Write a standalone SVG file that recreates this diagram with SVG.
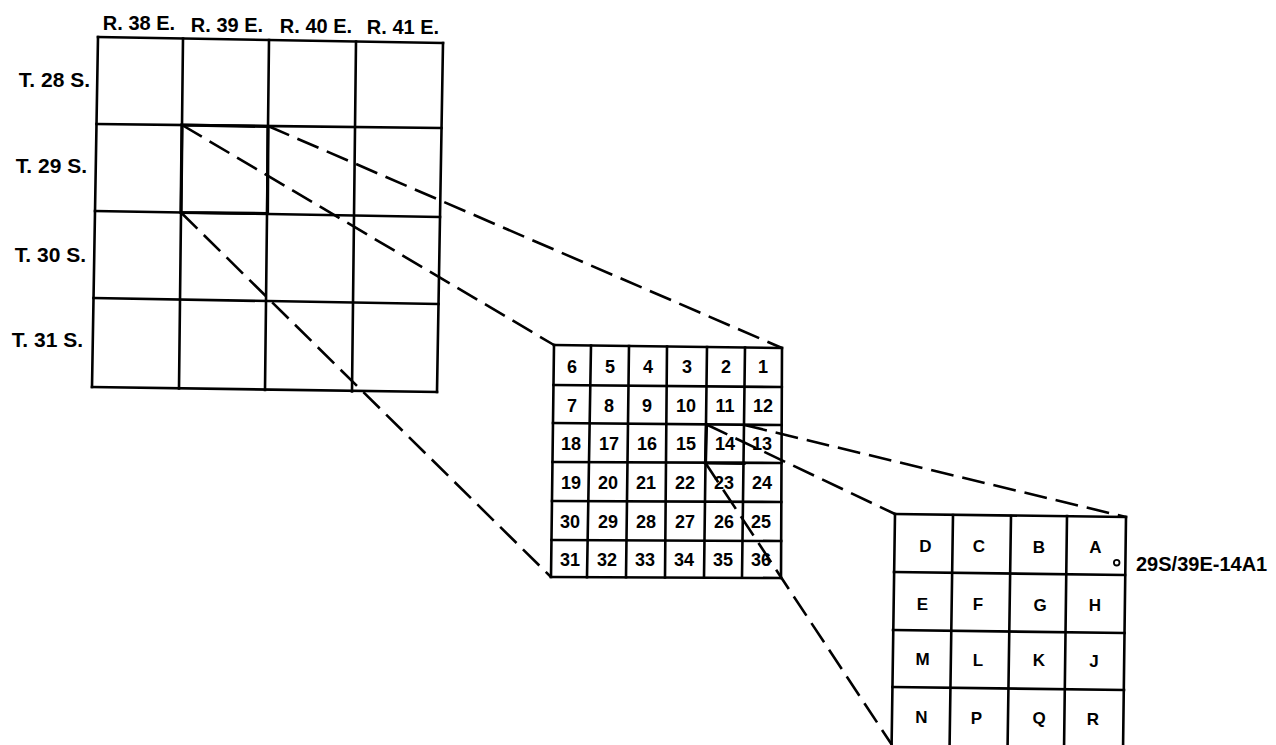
<svg xmlns="http://www.w3.org/2000/svg" width="1276" height="745" viewBox="0 0 1276 745">
<style>
.g{fill:none;stroke:#000;stroke-width:2.6;stroke-linecap:square}
.h{fill:none;stroke:#000;stroke-width:3.2;stroke-linecap:square}
.d{fill:none;stroke:#000;stroke-width:2.6;stroke-dasharray:23 9}
.t{font-family:"Liberation Sans",Arial,sans-serif;font-weight:bold;fill:#000}
.lb{font-size:20px}
.tl{font-size:21px}
.n{font-size:18px;text-anchor:middle}
.l{font-size:17px;text-anchor:middle}
</style>
<rect width="1276" height="745" fill="#fff"/>
<g id="connectors">
<path class="d" d="M182 125L554 345"/>
<path class="d" d="M268 126L782 348"/>
<path class="d" d="M181 212.5L551 577"/>
<path class="d" d="M706.5 424.5L895 514"/>
<path class="d" d="M744.5 425L1126 517"/>
<path class="d" d="M705.5 463L892 745"/>
</g>
<g id="township-grid">
<path class="g" d="M98 37L92 387M183 38.5L179 388.5M269 40L265 390M356 41.5L352 391.5M443 43L437 392"/>
<path class="g" d="M98 37L443 43M96.5 124L441.5 128M95 211L440 217M93.5 298L438.5 304M92 387L437 392"/>
<path class="h" d="M182 125L268 126.5L267.5 213.5L181 212.5Z"/>
<g class="t lb">
<text x="139" y="30" text-anchor="middle">R. 38 E.</text>
<text x="227" y="31.5" text-anchor="middle">R. 39 E.</text>
<text x="316" y="32.5" text-anchor="middle">R. 40 E.</text>
<text x="403" y="34" text-anchor="middle">R. 41 E.</text>
</g>
<g class="t tl">
<text x="90" y="87" text-anchor="end">T. 28 S.</text>
<text x="87" y="173" text-anchor="end">T. 29 S.</text>
<text x="86" y="262" text-anchor="end">T. 30 S.</text>
<text x="83" y="347" text-anchor="end">T. 31 S.</text>
</g>
</g>
<g id="section-grid">
<path class="g" d="M554 345L551 577M591 345.5L587 577.2M629 346L626 577.3M667 346.5L665 577.5M707 347L704 577.6M745 347.5L742 577.8M782 348L781 578"/>
<path class="g" d="M554 345L782 348M553.5 385L781.8 387M553 423L781.7 425M552.5 462L781.5 463M552 501L781.3 502M551.5 540L781.2 541M551 577L781 578"/>
<path class="h" d="M706.5 424.5L705.5 463L744 463.3"/>
<g class="t n">
<text x="572" y="372.5">6</text><text x="610" y="372.5">5</text><text x="648" y="372.5">4</text><text x="687" y="372.5">3</text><text x="726" y="372.5">2</text><text x="763" y="372.5">1</text>
<text x="572" y="411.5">7</text><text x="609" y="411.5">8</text><text x="647" y="411.5">9</text><text x="686" y="411.5">10</text><text x="725" y="411.5">11</text><text x="763" y="411.5">12</text>
<text x="571" y="450">18</text><text x="609" y="450">17</text><text x="647" y="450">16</text><text x="686" y="450">15</text><text x="725" y="450">14</text><text x="762" y="450">13</text>
<text x="571" y="489">19</text><text x="608" y="489">20</text><text x="646" y="489">21</text><text x="685" y="489">22</text><text x="724" y="489">23</text><text x="762" y="489">24</text>
<text x="570" y="528">30</text><text x="608" y="528">29</text><text x="646" y="528">28</text><text x="685" y="528">27</text><text x="724" y="528">26</text><text x="761" y="528">25</text>
<text x="570" y="566">31</text><text x="607" y="566">32</text><text x="645" y="566">33</text><text x="684" y="566">34</text><text x="723" y="566">35</text><text x="761" y="566">36</text>
</g>
</g>
<g id="tract-grid">
<path class="g" d="M895 514L891.5 752M953 515L949.5 752M1011 516L1007.5 752M1067 516L1064 752M1126 517L1123 752"/>
<path class="g" d="M895 514L1126 517M894 572L1125 575M893 630L1124.5 633M892.5 687L1124 690"/>
<g class="t l">
<text x="925.5" y="552">D</text><text x="979" y="552">C</text><text x="1039" y="552.5">B</text><text x="1095.5" y="552.5">A</text>
<text x="922.5" y="610">E</text><text x="978" y="610">F</text><text x="1040" y="610.5">G</text><text x="1095" y="611">H</text>
<text x="922.5" y="665">M</text><text x="978" y="665.5">L</text><text x="1039" y="666">K</text><text x="1094" y="666.5">J</text>
<text x="921.5" y="723">N</text><text x="976.5" y="723.5">P</text><text x="1039" y="724">Q</text><text x="1093" y="724.5">R</text>
</g>
</g>
<g id="well-29S-39E-14A1">
<circle cx="1116.7" cy="562.7" r="2.8" fill="none" stroke="#000" stroke-width="1.8"/>
<text class="t" x="1136" y="571" font-size="20">29S/39E-14A1</text>
</g>
</svg>
